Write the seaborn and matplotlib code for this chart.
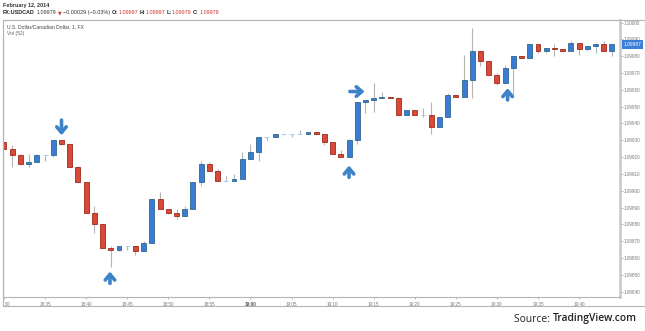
import numpy as np
import pandas as pd
import matplotlib
matplotlib.use("Agg")
import matplotlib.pyplot as plt
import matplotlib.transforms as mtransforms
from matplotlib.patches import Rectangle
import seaborn as sns

# USD/CAD one-minute bars, 12 Feb 2014, 18:30 - 19:44
times = pd.date_range("2014-02-12 18:30", periods=75, freq="min")
opens = [1.09929, 1.09925, 1.09921, 1.09916, 1.09917, 1.09921, 1.09921, 1.09930, 1.09928, 1.09914,
         1.09905, 1.09887, 1.09880, 1.09866, 1.09865, 1.09867, 1.09867, 1.09864, 1.09869, 1.09895,
         1.09889, 1.09887, 1.09885, 1.09889, 1.09905, 1.09916, 1.09912, 1.09906, 1.09906, 1.09907,
         1.09919, 1.09923, 1.09932, 1.09932, 1.09934, 1.09934, 1.09934, 1.09934, 1.09935, 1.09934,
         1.09929, 1.09922, 1.09920, 1.09930, 1.09953, 1.09954, 1.09955, 1.09956, 1.09955, 1.09945,
         1.09948, 1.09945, 1.09945, 1.09938, 1.09944, 1.09957, 1.09956, 1.09966, 1.09983, 1.09977,
         1.09969, 1.09964, 1.09973, 1.09980, 1.09979, 1.09987, 1.09983, 1.09985, 1.09984, 1.09983,
         1.09988, 1.09984, 1.09986, 1.09987, 1.09983]
highs = [1.09929, 1.09927, 1.09922, 1.09922, 1.09922, 1.09921, 1.09930, 1.09930, 1.09928, 1.09915,
         1.09905, 1.09891, 1.09880, 1.09867, 1.09867, 1.09867, 1.09867, 1.09870, 1.09895, 1.09899,
         1.09889, 1.09889, 1.09891, 1.09905, 1.09918, 1.09917, 1.09913, 1.09909, 1.09910, 1.09923,
         1.09928, 1.09932, 1.09932, 1.09934, 1.09934, 1.09934, 1.09936, 1.09935, 1.09935, 1.09934,
         1.09929, 1.09924, 1.09931, 1.09953, 1.09954, 1.09964, 1.09959, 1.09956, 1.09956, 1.09948,
         1.09948, 1.09949, 1.09953, 1.09944, 1.09958, 1.09957, 1.09981, 1.09997, 1.09983, 1.09977,
         1.09970, 1.09975, 1.09980, 1.09980, 1.09987, 1.09987, 1.09985, 1.09987, 1.09984, 1.09989,
         1.09988, 1.09986, 1.09988, 1.09989, 1.09987]
lows = [1.09925, 1.09914, 1.09916, 1.09914, 1.09917, 1.09918, 1.09920, 1.09927, 1.09914, 1.09905,
        1.09887, 1.09875, 1.09866, 1.09855, 1.09864, 1.09865, 1.09862, 1.09864, 1.09869, 1.09889,
        1.09886, 1.09883, 1.09885, 1.09889, 1.09903, 1.09912, 1.09906, 1.09906, 1.09906, 1.09907,
        1.09919, 1.09918, 1.09930, 1.09932, 1.09933, 1.09932, 1.09934, 1.09934, 1.09933, 1.09927,
        1.09922, 1.09920, 1.09920, 1.09928, 1.09946, 1.09947, 1.09955, 1.09955, 1.09945, 1.09945,
        1.09945, 1.09944, 1.09934, 1.09938, 1.09944, 1.09956, 1.09956, 1.09955, 1.09974, 1.09969,
        1.09963, 1.09964, 1.09957, 1.09979, 1.09979, 1.09982, 1.09982, 1.09980, 1.09983, 1.09983,
        1.09981, 1.09983, 1.09982, 1.09983, 1.09980]
closes = [1.09925, 1.09921, 1.09916, 1.09917, 1.09921, 1.09921, 1.09930, 1.09928, 1.09914, 1.09905,
          1.09887, 1.09880, 1.09866, 1.09865, 1.09867, 1.09867, 1.09864, 1.09869, 1.09895, 1.09889,
          1.09887, 1.09885, 1.09889, 1.09905, 1.09916, 1.09912, 1.09906, 1.09906, 1.09907, 1.09919,
          1.09923, 1.09932, 1.09932, 1.09934, 1.09934, 1.09934, 1.09934, 1.09935, 1.09934, 1.09929,
          1.09922, 1.09920, 1.09930, 1.09953, 1.09954, 1.09955, 1.09956, 1.09955, 1.09945, 1.09948,
          1.09945, 1.09945, 1.09938, 1.09944, 1.09957, 1.09956, 1.09966, 1.09983, 1.09977, 1.09969,
          1.09964, 1.09973, 1.09980, 1.09979, 1.09987, 1.09983, 1.09985, 1.09984, 1.09983, 1.09988,
          1.09984, 1.09986, 1.09987, 1.09983, 1.09987]

price_ticks = [1.0984, 1.0985, 1.0986, 1.0987, 1.0988, 1.0989, 1.0990, 1.0991, 1.0992,
               1.0993, 1.0994, 1.0995, 1.0996, 1.0997, 1.0998, 1.0999, 1.1000]
time_tick_labels = ["18:30", "18:35", "18:40", "18:45", "18:50", "18:55", "19:00", "19:05",
                    "19:10", "19:15", "19:20", "19:25", "19:30", "19:35", "19:40"]
last_price = 1.09987

# signal arrows: (x_start, y_start, x_end, y_end) in bar index / price
arrows = [(7.0, 1.09942, 7.0, 1.09933),
          (12.9, 1.09845, 12.9, 1.09852),
          (42.1, 1.09959, 43.9, 1.09959),
          (42.0, 1.09908, 42.0, 1.09915),
          (61.3, 1.09954, 61.3, 1.09961)]

sns.set_theme(style="white")
plt.rcParams["font.family"] = ["Liberation Sans", "DejaVu Sans"]

W, H = 645, 331
fig = plt.figure(figsize=(W / 100, H / 100), dpi=100)
fig.patch.set_facecolor("white")


def fx(x):
    return x / W


def fy(y):
    return 1 - y / H


ax = fig.add_axes([fx(3), fy(297), fx(620) - fx(3), fy(19.5) - fy(297)])
ax.set_facecolor("white")

df = pd.DataFrame({"time": times, "open": opens, "high": highs, "low": lows, "close": closes})
df["idx"] = np.arange(len(df))
df["up"] = df["close"] >= df["open"]
df["doji"] = df["close"] == df["open"]

# wicks
ax.vlines(df["idx"], df["low"], df["high"], color="#b4b4b4", lw=0.8, zorder=1)

# bodies
body_bottom = np.minimum(df["open"], df["close"])
body_height = (df["close"] - df["open"]).abs()
fill = np.where(df["doji"], "#a9c6ec", np.where(df["up"], "#3a7bd5", "#d9493a"))
edge = np.where(df["doji"], "#a9c6ec", np.where(df["up"], "#2f6a8a", "#9c2a1c"))
ax.bar(df["idx"], body_height, bottom=body_bottom, width=0.6,
       color=fill, edgecolor=edge, linewidth=0.6, zorder=2)

for x0, y0, x1, y1 in arrows:
    ax.annotate("", xy=(x1, y1), xytext=(x0, y0),
                arrowprops=dict(arrowstyle="->, head_length=0.45, head_width=0.38",
                                lw=2.6, color="#3d83c9", mutation_scale=9,
                                shrinkA=0, shrinkB=0),
                zorder=5)

ax.set_xlim(-0.12, 74.98)
ax.set_ylim(1.098369, 1.100018)

ax.yaxis.tick_right()
ax.set_yticks(price_ticks)
ax.set_yticklabels([f"{p:.5f}" for p in price_ticks])
ax.tick_params(axis="y", right=True, left=False, length=2, width=0.5, color="#999999",
               labelsize=3.3, labelcolor="#777777", pad=1)

ax.set_xticks(np.arange(0, 75, 5))
ax.set_xticklabels(time_tick_labels)
ax.tick_params(axis="x", bottom=True, length=1.5, width=0.5, color="#999999",
               labelsize=3.3, labelcolor="#777777", pad=2)

# time labels are clipped to the chart frame, as on the trading screen
frame_clip = mtransforms.TransformedBbox(
    mtransforms.Bbox.from_extents(fx(3), 0, 1, 1), fig.transFigure)
for lab in ax.get_xticklabels():
    lab.set_clip_box(frame_clip)
    lab.set_clip_on(True)
    if lab.get_text() == "19:00":
        lab.set_fontweight("bold")
        lab.set_color("#555555")

for side, sp in ax.spines.items():
    sp.set_color("#b5b5b5")
    sp.set_linewidth(0.8)
ax.spines["right"].set_linewidth(1.8)
ax.spines["right"].set_color("#c8c8c8")

# last price marker on the price scale
trans = mtransforms.blended_transform_factory(ax.transAxes, ax.transData)
ax.text(1.006, last_price, f"{last_price:.5f}", transform=trans, ha="left", va="center",
        fontsize=3.5, color="white", zorder=6, clip_on=False,
        bbox=dict(boxstyle="square,pad=0.35", facecolor="#3b7fd6", edgecolor="none"))

# outer frame
fig.patches.append(Rectangle((fx(3), fy(306)), fx(645) - fx(3), fy(19.5) - fy(306),
                             transform=fig.transFigure, fill=False,
                             edgecolor="#b5b5b5", lw=0.8))

# header
fig.text(fx(3), fy(5), "February 12, 2014", fontsize=4.0, color="#333333",
         fontweight="bold", va="center", ha="left")

fig.canvas.draw()
renderer = fig.canvas.get_renderer()
hdr_y = fy(12.8)
red = "#cc2f2a"
segments = [
    ("FX:USDCAD", "#222222", "bold", 1.6),
    ("1.09979", "#333333", "normal", 2.5),
    ("\u25bc", red, "normal", 1.2),
    ("\u22120.00029 (\u22120.03%)", "#333333", "normal", 1.6),
    ("O:", "#222222", "bold", 0.3),
    ("1.09997", red, "normal", 1.6),
    ("H:", "#222222", "bold", 0.3),
    ("1.09997", red, "normal", 1.6),
    ("L:", "#222222", "bold", 0.3),
    ("1.09979", red, "normal", 1.6),
    ("C:", "#222222", "bold", 0.3),
    ("1.09979", red, "normal", 0),
]
xpos = 3.0
for s, c, w, gap in segments:
    kw = dict(fontsize=3.9, color=c, fontweight=w, va="center", ha="left")
    if s == "\u25bc":
        kw["fontsize"] = 3.4
        kw["family"] = ["DejaVu Sans"]
    t = fig.text(fx(xpos), hdr_y, s, **kw)
    bb = t.get_window_extent(renderer=renderer)
    xpos += bb.width + gap

fig.text(fx(7), fy(26.7), "U.S. Dollar/Canadian Dollar, 1, FX", fontsize=3.6,
         color="#444444", va="center", ha="left")
fig.text(fx(7), fy(33.3), "Vol (52)", fontsize=3.6, color="#666666", va="center", ha="left")

# source credit, right-aligned
src_y = fy(319)
t2 = fig.text(fx(637), src_y, "TradingView.com", fontsize=7.4, color="#222222", va="center",
              ha="right", fontweight="semibold", family=["Open Sans", "DejaVu Sans"])
bb2 = t2.get_window_extent(renderer=renderer)
fig.text(bb2.x0 / W, src_y, "Source: ", fontsize=7.4, color="#222222", va="center",
         ha="right", family=["Open Sans", "DejaVu Sans"])

fig.savefig("out.png", dpi=100, facecolor="white")
